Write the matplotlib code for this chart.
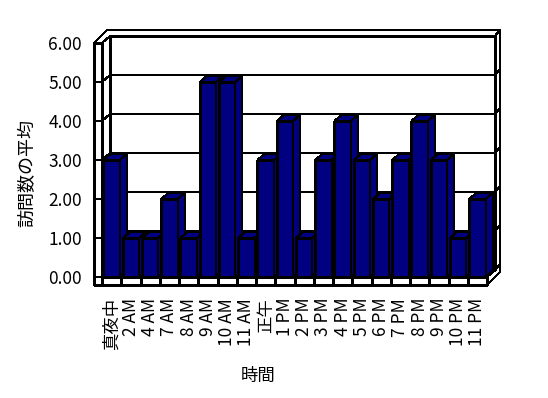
import matplotlib
matplotlib.use('Agg')
import matplotlib.pyplot as plt
from matplotlib.patches import Polygon
from matplotlib.lines import Line2D
from matplotlib.transforms import IdentityTransform
import numpy as np

plt.rcParams['font.family'] = ['Noto Sans CJK JP', 'DejaVu Sans']

hours = ['真夜中', '2 AM', '4 AM', '7 AM', '8 AM', '9 AM', '10 AM', '11 AM', '正午',
         '1 PM', '2 PM', '3 PM', '4 PM', '5 PM', '6 PM', '7 PM', '8 PM', '9 PM',
         '10 PM', '11 PM']
avg_visits = [3, 1, 1, 2, 1, 5, 5, 1, 3, 4, 1, 3, 4, 3, 2, 3, 4, 3, 1, 2]
yticks = [0, 1, 2, 3, 4, 5, 6]

W, H, DPI = 548, 398, 100
NAVY = '#000080'
WALL = 8            # wall / floor thickness in pixels
IX, IY = 8, 7       # depth offset of the inner back wall
OX, OY = 13, 13     # depth offset of the outer box
BX, BY = 7, 6       # bar depth

fig = plt.figure(figsize=(W / DPI, H / DPI), dpi=DPI)
ax = fig.add_axes([102 / W, 121 / H, 385 / W, 234 / H])
ax.set_xlim(-0.5, len(hours) - 0.5)
ax.set_ylim(yticks[0], yticks[-1])
for s in ax.spines.values():
    s.set_visible(False)
ax.patch.set_visible(False)

ident = IdentityTransform()

def to_px(x, y):
    return ax.transData.transform((x, y))

def poly(pts, z, fc='white'):
    ax.add_patch(Polygon(pts, closed=True, fc=fc, ec='k', lw=0.8, transform=ident,
                         clip_on=False, zorder=z, antialiased=False))

def line(pts, z=3):
    pts = np.asarray(pts)
    ax.add_line(Line2D(pts[:, 0], pts[:, 1], color='k', lw=0.8, transform=ident,
                       clip_on=False, zorder=z, antialiased=False))

fx0, fy0 = to_px(-0.5, yticks[0])
fx1, fy6 = to_px(len(hours) - 0.5, yticks[-1])

# outer box silhouette
poly([(fx0 - WALL, fy0 - WALL), (fx0 - WALL, fy6), (fx0 - WALL + OX, fy6 + OY),
      (fx1 + OX, fy6 + OY), (fx1 + OX, fy0 - WALL + OY), (fx1, fy0 - WALL)], 1)
# back wall
poly([(fx0 + IX, fy0 + IY), (fx1 + IX, fy0 + IY), (fx1 + IX, fy6 + IY),
      (fx0 + IX, fy6 + IY)], 2)
# left wall inner face and floor top
poly([(fx0, fy0), (fx0, fy6), (fx0 + IX, fy6 + IY), (fx0 + IX, fy0 + IY)], 2)
poly([(fx0, fy0), (fx1, fy0), (fx1 + IX, fy0 + IY), (fx0 + IX, fy0 + IY)], 2)
# left wall front face, floor front face
poly([(fx0 - WALL, fy0 - WALL), (fx0, fy0 - WALL), (fx0, fy6), (fx0 - WALL, fy6)], 2)
poly([(fx0, fy0 - WALL), (fx1, fy0 - WALL), (fx1, fy0), (fx0, fy0)], 2)
line([(fx1 + IX, fy6 + IY), (fx1 + OX, fy6 + OY)])

for v in yticks:
    _, yv = to_px(0, v)
    line([(fx0 - WALL, yv), (fx0, yv), (fx0 + IX, yv + IY), (fx1 + IX, yv + IY),
          (fx1 + OX, yv + OY)])

for i in range(1, len(hours)):
    bx, _ = to_px(i - 0.5, 0)
    line([(bx, fy0 - WALL), (bx, fy0)])

bars = ax.bar(range(len(hours)), avg_visits, width=0.85, color=NAVY,
              edgecolor='k', linewidth=0.8)
for i, b in enumerate(bars):
    z = 10 + 3 * i
    b.set_zorder(z)
    b.set_antialiased(False)
    lx, by = to_px(b.get_x(), 0)
    rx, ty = to_px(b.get_x() + b.get_width(), b.get_height())
    poly([(rx, by), (rx, ty), (rx + BX, ty + BY), (rx + BX, by + BY)], z + 1, NAVY)
    poly([(lx, ty), (rx, ty), (rx + BX, ty + BY), (lx + BX, ty + BY)], z + 2, NAVY)

ax.set_xticks(range(len(hours)))
ax.set_xticklabels(hours, rotation=90, fontsize=12.5)
ax.set_yticks(yticks)
ax.set_yticklabels(['%.2f' % v for v in yticks], fontsize=12.5)
ax.tick_params(axis='x', length=0, pad=15)
ax.tick_params(axis='y', length=0, pad=14.4)

fig.text(27 / W, 1 - 173 / H, '訪問数の平均', rotation=90, ha='center', va='center',
         fontsize=13)
fig.text(258 / W, 1 - 376 / H, '時間', ha='center', va='center', fontsize=12.5)

fig.savefig('out.png', dpi=DPI)
